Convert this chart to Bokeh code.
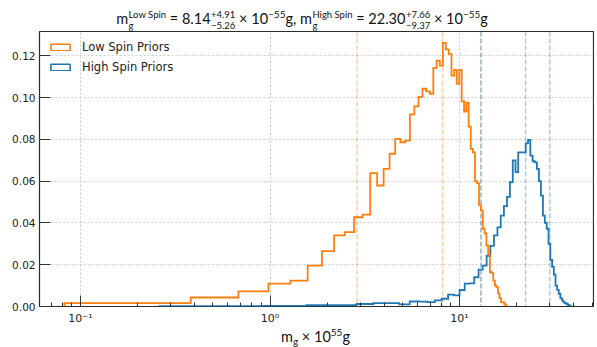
import numpy as np
from bokeh.plotting import figure
from bokeh.models import (Range1d, Span, Legend, LegendItem, Div, FixedTicker,
                          CustomJSTickFormatter, PrintfTickFormatter)
from bokeh.layouts import column
from bokeh.embed import file_html
from bokeh.resources import INLINE

# ---------------- data ----------------
low_label = "Low Spin Priors"
high_label = "High Spin Priors"

low_bin_start = 0.0823
low_bin_width = 0.2995
low_heights = [0.0016, 0.0043, 0.0072, 0.0109, 0.0124, 0.0196, 0.0265, 0.0340, 0.0356, 0.0427,
               0.0440, 0.0638, 0.0579, 0.0659, 0.0731, 0.0802, 0.0786, 0.0794, 0.0919, 0.0958,
               0.1003, 0.1042, 0.1029, 0.1018, 0.1142, 0.1177, 0.1153, 0.1262, 0.1230, 0.1209,
               0.1105, 0.1132, 0.1066, 0.1132, 0.0982, 0.0933, 0.0975, 0.0861, 0.0754, 0.0738,
               0.0600, 0.0590, 0.0485, 0.0460, 0.0372, 0.0350, 0.0292, 0.0250, 0.0165, 0.0160,
               0.0124, 0.0100, 0.0092, 0.0062, 0.0040, 0.0021, 0.0021, 0.0013, 0.0005]

high_bin_start = 0.261
high_bin_width = 0.6493
high_heights = [0.0002, 0.0003, 0.0006, 0.0006, 0.0012, 0.0016, 0.0016, 0.0010, 0.0024, 0.0023,
                0.0021, 0.0029, 0.0037, 0.0057, 0.0053, 0.0079, 0.0109, 0.0111, 0.0140, 0.0176,
                0.0196, 0.0242, 0.0290, 0.0340, 0.0379, 0.0435, 0.0480, 0.0525, 0.0595, 0.0699,
                0.0643, 0.0738, 0.0738, 0.0738, 0.0781, 0.0797, 0.0722, 0.0695, 0.0690, 0.0659,
                0.0600, 0.0531, 0.0435, 0.0400, 0.0372, 0.0300, 0.0223, 0.0190, 0.0153, 0.0100,
                0.0080, 0.0061, 0.0040, 0.0029, 0.0020, 0.0016, 0.0012, 0.0008, 0.0004]

low_median, low_plus, low_minus = 8.14, 4.91, 5.26
high_median, high_plus, high_minus = 22.30, 7.66, 9.37
exponent = -55

y_ticks = [0.00, 0.02, 0.04, 0.06, 0.08, 0.10, 0.12]
x_ticks = [0.1, 1.0, 10.0]

x_min, x_max = 0.0608, 50.9
y_min, y_max = 0.0, 0.1316

ORANGE = "#ff7f0e"
BLUE = "#1f77b4"


def step_xy(start, width, heights):
    n = len(heights)
    edges = [start + width * i for i in range(n + 1)]
    xs, ys = [edges[0]], [0.0]
    for i, h in enumerate(heights):
        xs += [edges[i], edges[i + 1]]
        ys += [h, h]
    xs.append(edges[-1])
    ys.append(0.0)
    return edges, xs, ys


W = 594
p = figure(width=W, height=297, x_axis_type="log",
           x_range=Range1d(x_min, x_max), y_range=Range1d(y_min, y_max),
           output_backend="svg", toolbar_location=None,
           min_border_left=39, min_border_right=1, min_border_top=1, min_border_bottom=21)
p.margin = (0, 0, 0, 0)
p.outline_line_color = "#2b2b2b"
p.outline_line_width = 1.2
p.background_fill_color = "white"
p.border_fill_color = "white"

# grid
for g in (p.xgrid, p.ygrid):
    g.grid_line_color = "#b8b8b8"
    g.grid_line_dash = "2 2"
    g.grid_line_width = 0.8
    g.grid_line_alpha = 0.9

# axes
minor = [m * t for t in [0.01] + x_ticks for m in range(2, 10) if x_min <= m * t <= x_max]
p.xaxis.ticker = FixedTicker(ticks=x_ticks, minor_ticks=minor)
p.xaxis.formatter = CustomJSTickFormatter(code="""
const e = Math.round(Math.log10(tick));
const s = {"-":"\u207b","0":"\u2070","1":"\u00b9","2":"\u00b2","3":"\u00b3","4":"\u2074","5":"\u2075","6":"\u2076","7":"\u2077","8":"\u2078","9":"\u2079"};
return "10" + String(e).split("").map(c => s[c]).join("");
""")
p.yaxis.ticker = FixedTicker(ticks=y_ticks, minor_ticks=[])
p.yaxis.formatter = PrintfTickFormatter(format="%.2f")
for ax in (p.xaxis, p.yaxis):
    ax.axis_line_color = None
    ax.major_tick_in = 11
    ax.major_tick_out = 0
    ax.minor_tick_in = 4
    ax.minor_tick_out = 0
    ax.major_tick_line_color = "#333333"
    ax.minor_tick_line_color = "#333333"
    ax.major_label_text_font = "DejaVu Sans"
    ax.major_label_text_color = "#222222"
p.xaxis.major_label_text_font_size = "11px"
p.yaxis.major_label_text_font_size = "10.5px"
p.xaxis.major_label_standoff = 5
p.yaxis.major_label_standoff = 4

# dashed quantile lines
for med, plus, minus, col in ((low_median, low_plus, low_minus, ORANGE),
                              (high_median, high_plus, high_minus, BLUE)):
    for loc in (med - minus, med, med + plus):
        p.add_layout(Span(location=loc, dimension="height", line_color=col, line_alpha=0.38,
                          line_dash="5 2", line_width=1.5, level="underlay"))

# histograms
legend_items = []
for start, width, heights, col, lab in ((high_bin_start, high_bin_width, high_heights, BLUE, high_label),
                                        (low_bin_start, low_bin_width, low_heights, ORANGE, low_label)):
    edges, xs, ys = step_xy(start, width, heights)
    p.line(xs, ys, line_color=col, line_width=1.8, line_join="miter")
    proxy = p.quad(left=edges[:-1], right=edges[1:], top=heights, bottom=[0.0] * len(heights),
                   fill_alpha=0, line_color=col, line_width=1.6)
    proxy.visible = False
    legend_items.insert(0, LegendItem(label=lab, renderers=[proxy]))

legend = Legend(items=legend_items, location="top_left", glyph_width=24, glyph_height=8,
                label_standoff=10, label_height=12, spacing=6, padding=9, margin=0,
                background_fill_alpha=0, border_line_alpha=0,
                label_text_font="DejaVu Sans", label_text_font_size="11.5px",
                label_text_color="#222222")
p.add_layout(legend)

# title and x label as HTML text
MINUS = "\u2212"


def stack(sup, sub):
    return ('<span style="display:inline-flex;flex-direction:column;align-items:flex-start;'
            'font-size:9.5px;line-height:11px;vertical-align:6px;margin-left:0.5px">'
            f'<span>{sup}</span><span>{sub}</span></span>')


def sup(t):
    return f'<span style="font-size:10px;vertical-align:6px">{t}</span>'


def sub(t):
    return f'<span style="font-size:10px;vertical-align:-3px">{t}</span>'


exp_txt = f"{MINUS}{abs(exponent)}" if exponent < 0 else str(exponent)
title_html = (
    f'm{stack("Low Spin", "g")} = {low_median:.2f}'
    f'{stack("+%.2f" % low_plus, MINUS + "%.2f" % low_minus)} \u00d7 10{sup(exp_txt)}g, '
    f'm{stack("High Spin", "g")} = {high_median:.2f}'
    f'{stack("+%.2f" % high_plus, MINUS + "%.2f" % high_minus)} \u00d7 10{sup(exp_txt)}g'
)
title_div = Div(text=(f'<div style="width:{W}px;box-sizing:border-box;padding-left:10px;'
                      'text-align:center;white-space:nowrap;font-family:Lato;font-size:14.5px;'
                      f'color:#111;line-height:28px">{title_html}</div>'),
                width=W, height=30, margin=(0, 0, 0, 0))

xlabel_html = f'm{sub("g")} \u00d7 10{sup(str(abs(exponent)))}g'
xlabel_div = Div(text=(f'<div style="width:{W}px;box-sizing:border-box;padding-left:37px;'
                       'text-align:center;white-space:nowrap;font-family:Lato;font-size:14.5px;'
                       f'color:#111;line-height:16px;position:relative;top:-3px">{xlabel_html}</div>'),
                 width=W, height=20, margin=(0, 0, 0, 0))

layout = column(title_div, p, xlabel_div, spacing=0)
open("out.html", "w").write(file_html(layout, INLINE))
